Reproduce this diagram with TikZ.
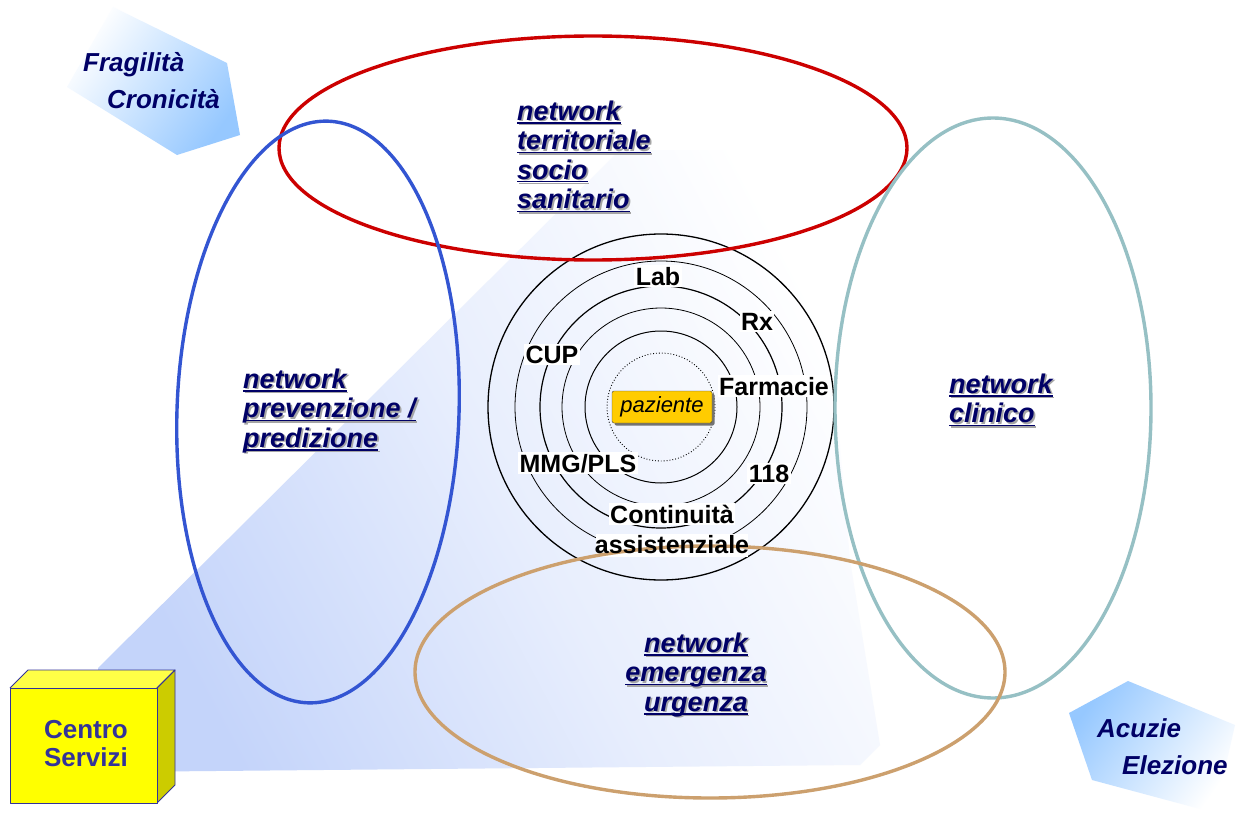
\documentclass[tikz,border=0pt]{standalone}
\usepackage{fontspec}
\setmainfont{Liberation Sans}
\usetikzlibrary{shadows}
\definecolor{navytxt}{RGB}{0,0,102}
\definecolor{netshadow}{RGB}{165,165,165}
\definecolor{beamcol}{RGB}{196,212,250}
\definecolor{pentcol}{RGB}{150,200,255}
\definecolor{redE}{RGB}{204,0,0}
\definecolor{blueE}{RGB}{51,85,210}
\definecolor{tealE}{RGB}{150,192,196}
\definecolor{tanE}{RGB}{204,160,110}
\definecolor{cubefront}{RGB}{255,255,0}
\definecolor{cubetop}{RGB}{255,255,70}
\definecolor{cubeside}{RGB}{204,204,0}
\definecolor{cubeedge}{RGB}{51,51,153}
\definecolor{pazcol}{RGB}{255,204,0}
\newcommand{\netline}[1]{\hbox{\setbox0\hbox{#1}%
  \rlap{\kern1.6pt\lower1.6pt\hbox{\color{netshadow}\rlap{\vrule width\wd0 height-2.1pt depth3.5pt}\copy0}}%
  \rlap{\vrule width\wd0 height-2.1pt depth3.5pt}\box0}}
\begin{document}
\begin{tikzpicture}[x=1pt,y=-1pt,
  netlabel/.style={inner sep=0pt, text=navytxt, font=\fontsize{27}{29.5}\selectfont\bfseries\itshape},
  sidelabel/.style={inner sep=0pt, text=navytxt, font=\fontsize{26}{37}\selectfont\bfseries\itshape},
  ringlabel/.style={fill=white, inner sep=1.5pt, text=black, font=\fontsize{25}{28}\selectfont\bfseries, anchor=base},
  ring/.style={draw=black, line width=#1},
  netellipse/.style={draw=#1, line width=3.4pt},
  cubeface/.style={draw=cubeedge, line width=0.9pt, line join=round}
]
\useasboundingbox (0,0) rectangle (1240,816);
\fill[white] (0,0) rectangle (1240,816);
% light beam from the service centre
\shade[top color=white, bottom color=beamcol, middle color=beamcol!40, shading angle=-62]
  (98,668) -- (620,150) -- (740,150) -- (830,330) -- (850,560) -- (880,745) -- (860,765) -- (108,772) -- cycle;
% side pentagons
\shade[top color=white, bottom color=pentcol, shading angle=55]
  (113,7) -- (227,63) -- (240,135) -- (177,155) -- (67,87) -- cycle;
\shade[top color=white, bottom color=pentcol, shading angle=-125]
  (1069,713) -- (1128,681) -- (1235,725) -- (1215,813) -- (1092,780) -- cycle;
% concentric rings
\draw[ring=1.3pt] (661,407) circle [radius=173];
\draw[ring=0.8pt] (661,407) circle [radius=146];
\draw[ring=1.2pt] (661,407) circle [radius=121];
\draw[ring=0.8pt] (661,407) circle [radius=99];
\draw[ring=1.0pt] (661,407) circle [radius=76];
\draw[ring=0.9pt, dotted] (661,407) circle [radius=54];
% ring labels
\node[ringlabel] (lab) at (658,285) {Lab};
\node[ringlabel] (rx) at (757,330) {Rx};
\node[ringlabel] (cup) at (552,363) {CUP};
\node[ringlabel] (farm) at (774,395) {Farmacie};
\node[ringlabel] (mmg) at (578,472) {MMG/PLS};
\node[ringlabel] (n118) at (769,482) {118};
\node[ringlabel] (cont) at (672,523) {Continuità};
\fill[white] (596,534) rectangle (748,557);
% network ellipses
\draw[netellipse=redE] (593,148) ellipse [x radius=314, y radius=112];
\draw[netellipse=blueE, rotate around={-2:(318,412)}] (318,412) ellipse [x radius=141, y radius=291];
\draw[netellipse=tealE] (993,408) ellipse [x radius=158, y radius=290];
\draw[netellipse=tanE] (710,672) ellipse [x radius=295, y radius=126];
\node[ringlabel, fill=none] (assist) at (672,553) {assistenziale};
% network labels
\node[netlabel, anchor=base west] (terr) at (517,120)
  {\vtop{\netline{network}\netline{territoriale}\netline{socio}\netline{sanitario}}};
\node[netlabel, anchor=base west] (prev) at (243,388)
  {\vtop{\netline{network}\netline{prevenzione /}\netline{predizione}}};
\node[netlabel, anchor=base west] (clin) at (949,393)
  {\vtop{\netline{network}\netline{clinico}}};
\node[netlabel, anchor=base] (emer) at (696,652)
  {\vtop{\hbox to 150pt{\hss\netline{network}\hss}\hbox to 150pt{\hss\netline{emergenza}\hss}\hbox to 150pt{\hss\netline{urgenza}\hss}}};
% side labels
\node[sidelabel, anchor=base west] (fragil) at (83,71)
  {\vtop{\hbox{Fragilità}\hbox{\kern24pt Cronicità}}};
\node[sidelabel, anchor=base west] (acuz) at (1097,737)
  {\vtop{\hbox{Acuzie}\hbox{\kern25pt Elezione}}};
% patient
\node[draw=black!75, fill=pazcol, rounded corners=2pt, minimum width=100pt, minimum height=32pt, inner sep=0pt,
  drop shadow={shadow xshift=2.5pt, shadow yshift=-2.5pt, fill=black!55, opacity=1},
  font=\fontsize{22}{24}\selectfont\itshape] (paz) at (662,407) {paziente};
% service centre cube
\fill[cubetop] (10,688) -- (28,670) -- (175,670) -- (157,688) -- cycle;
\draw[cubeface, fill=cubeside] (157,688) -- (175,670) -- (175,785) -- (157,803) -- cycle;
\draw[cubeface] (10,688) -- (28,670) -- (175,670) -- (157,688);
\draw[cubeface, fill=cubefront] (10,688) rectangle (157,803);
\node[inner sep=0pt, align=left, text=cubeedge, font=\fontsize{26}{28}\selectfont\bfseries] (centro) at (86,744) {Centro\\Servizi};
\end{tikzpicture}
\end{document}
